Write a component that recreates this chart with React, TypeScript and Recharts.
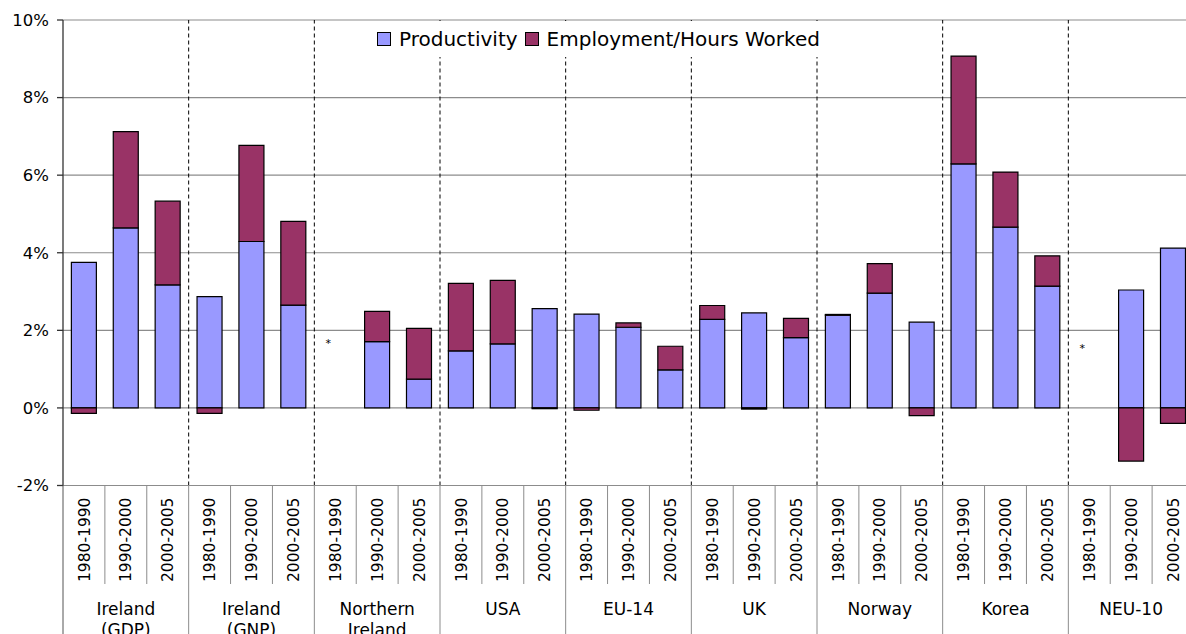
import { BarChart, Bar, XAxis, YAxis, CartesianGrid, ReferenceLine, ReferenceDot, Legend } from "recharts"

const periods = ["1980-1990", "1990-2000", "2000-2005"]
const groups = [
  ["Ireland", "(GDP)"],
  ["Ireland", "(GNP)"],
  ["Northern", "Ireland"],
  ["USA"],
  ["EU-14"],
  ["UK"],
  ["Norway"],
  ["Korea"],
  ["NEU-10"],
]

// growth rates in %, one value per group x period
const productivity = [
  3.75, 4.64, 3.17,
  2.87, 4.29, 2.65,
  null, 1.71, 0.74,
  1.47, 1.65, 2.56,
  2.42, 2.08, 0.98,
  2.28, 2.45, 1.81,
  2.39, 2.96, 2.21,
  6.29, 4.66, 3.14,
  null, 3.04, 4.12,
]
const employment = [
  -0.14, 2.48, 2.16,
  -0.14, 2.48, 2.16,
  null, 0.78, 1.31,
  1.74, 1.64, -0.02,
  -0.06, 0.11, 0.61,
  0.36, -0.03, 0.5,
  0.02, 0.76, -0.2,
  2.78, 1.42, 0.78,
  null, -1.37, -0.4,
]
// "*" = no data for that period
const notes = [
  { group: 2, period: 0, value: 1.73 },
  { group: 8, period: 0, value: 1.6 },
]
const yTicks = [-2, 0, 2, 4, 6, 8, 10]

const keyOf = (g: number, p: number) => `${g}|${periods[p]}`
const data = productivity.map((p, i) => ({
  key: keyOf(Math.floor(i / 3), i % 3),
  productivity: p,
  employment: employment[i],
}))

const W = 1200
const H = 634
const M = { top: 20, right: 6, bottom: 0, left: 0 }
const Y_W = 63
const X_H = 148.5
const AXIS_Y = H - M.bottom - X_H
const BAND = (W - M.left - M.right - Y_W) / data.length
const FONT = "DejaVu Sans"
const LINE = "#8c8c8c"

function PeriodTick(props: any) {
  const { x, payload } = props
  const idx = payload.index
  const label = String(payload.value).split("|")[1]
  const right = x + BAND / 2
  const lastInGroup = idx % 3 === 2
  const g = groups[Math.floor(idx / 3)]
  return (
    <g>
      {idx === 0 && <line x1={x - BAND / 2} x2={x - BAND / 2} y1={AXIS_Y} y2={H} stroke="#555" />}
      <line x1={right} x2={right} y1={AXIS_Y} y2={lastInGroup ? H : 584} stroke={LINE} />
      <text
        transform={`translate(${x + 5.6},582) rotate(-90)`}
        textAnchor="start"
        fontFamily={FONT}
        fontSize={15.5}
        fill="#000"
      >
        {label}
      </text>
      {idx % 3 === 1 &&
        g.map((line, k) => (
          <text key={k} x={x} y={615 + k * 21} textAnchor="middle" fontFamily={FONT} fontSize={17} fill="#000">
            {line}
          </text>
        ))}
    </g>
  )
}

function LegendBox() {
  const items = [
    { name: "Productivity", color: "#9999FF" },
    { name: "Employment/Hours Worked", color: "#993366" },
  ]
  return (
    <div style={{ display: "flex", alignItems: "center", height: 36, paddingLeft: 9, fontFamily: FONT, fontSize: 20, color: "#000" }}>
      {items.map(it => (
        <div key={it.name} style={{ display: "flex", alignItems: "center", marginRight: 7 }}>
          <span style={{ width: 12, height: 12, background: it.color, border: "1px solid #000", marginRight: 8 }} />
          <span>{it.name}</span>
        </div>
      ))}
    </div>
  )
}

export default function App() {
  return (
    <div style={{ position: "absolute", left: 0, top: 0, width: 1186, height: 634, overflow: "hidden", background: "#fff" }}>
      <BarChart width={W} height={H} data={data} stackOffset="sign" barCategoryGap="20%" margin={M}>
        <CartesianGrid vertical={false} stroke={LINE} strokeWidth={1.2} />
        <XAxis
          dataKey="key"
          interval={0}
          height={X_H}
          tick={<PeriodTick />}
          tickLine={false}
          axisLine={{ stroke: LINE, strokeWidth: 1.2 }}
        />
        <YAxis
          domain={[-2, 10]}
          ticks={yTicks}
          interval={0}
          width={Y_W}
          tickFormatter={v => `${v}%`}
          tickSize={6}
          tickMargin={8}
          tick={{ fontFamily: FONT, fontSize: 16.5, fill: "#000" }}
          axisLine={{ stroke: "#333", strokeWidth: 1.3 }}
          tickLine={{ stroke: "#333", strokeWidth: 1.3 }}
        />
        {groups.slice(0, -1).map((_, g) => (
          <ReferenceLine key={g} x={keyOf(g, 2)} position="end" stroke="#000" strokeDasharray="4 3" />
        ))}
        <Bar dataKey="productivity" stackId="a" fill="#9999FF" stroke="#000" strokeWidth={1.2} isAnimationActive={false} />
        <Bar dataKey="employment" stackId="a" fill="#993366" stroke="#000" strokeWidth={1.2} isAnimationActive={false} />
        {notes.map(n => (
          <ReferenceDot
            key={n.group}
            x={keyOf(n.group, n.period)}
            y={n.value}
            r={0}
            label={{
              content: (p: any) => (
                <text x={p.viewBox.x - 7} y={p.viewBox.y + 6} textAnchor="middle" fontFamily={FONT} fontSize={11} fill="#000">
                  *
                </text>
              ),
            }}
          />
        ))}
        <Legend
          layout="horizontal"
          verticalAlign="middle"
          align="center"
          content={<LegendBox />}
          wrapperStyle={{ left: 368, top: 21, width: 480, height: 36, background: "#fff" }}
        />
      </BarChart>
    </div>
  )
}
